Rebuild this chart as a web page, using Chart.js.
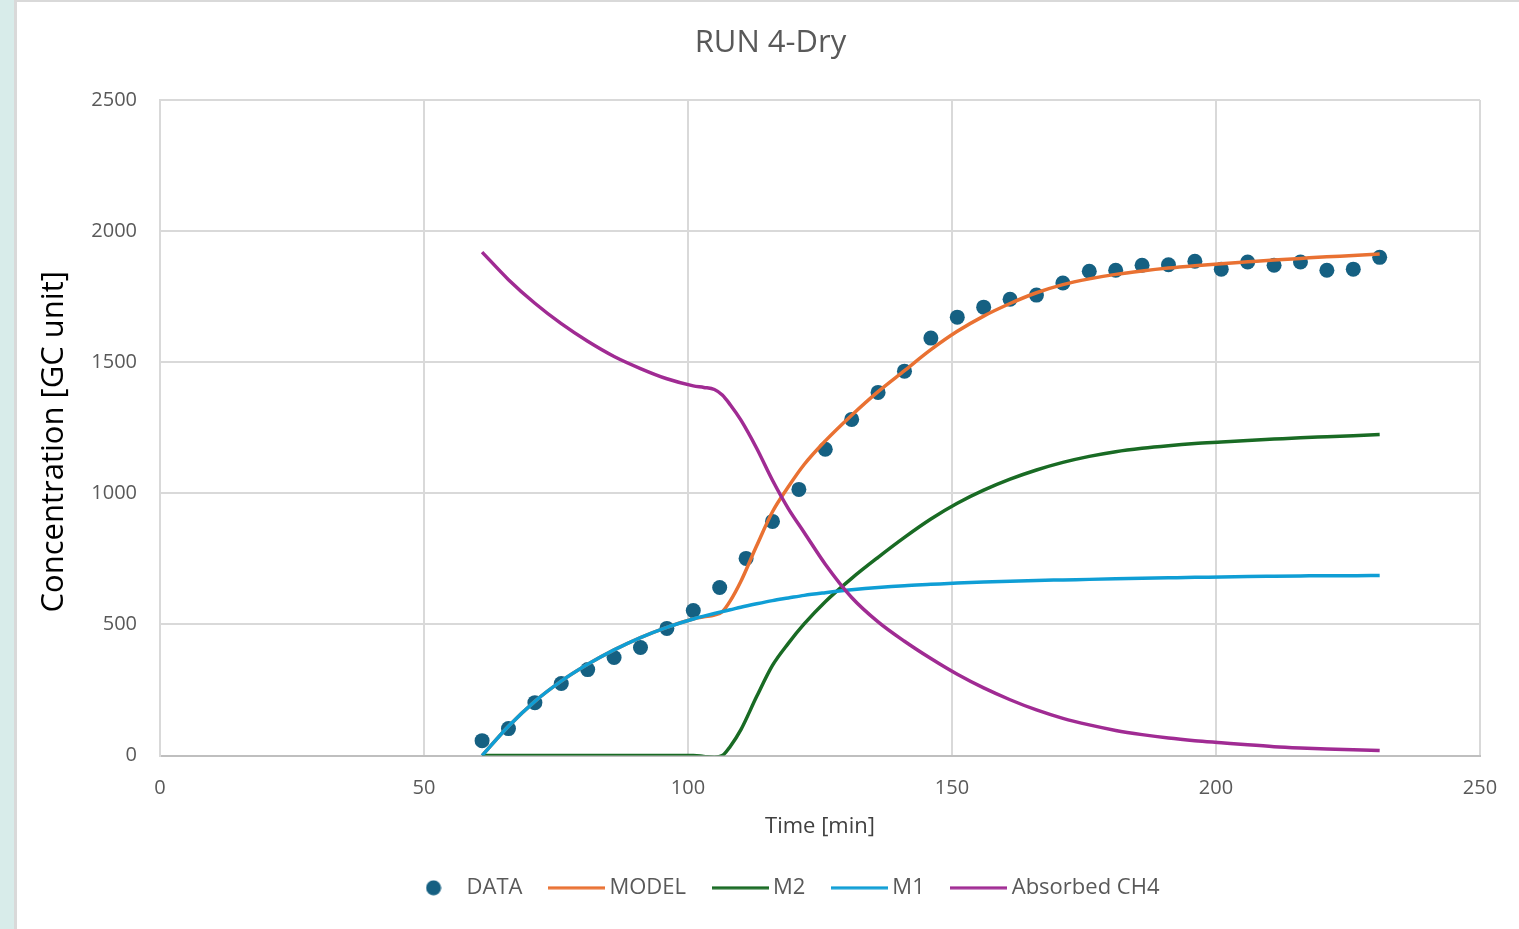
<!DOCTYPE html>
<html>
<head>
<meta charset="utf-8">
<script src="https://cdn.jsdelivr.net/npm/chart.js@4/dist/chart.umd.min.js"></script>
<style>
  html, body { margin: 0; padding: 0; width: 1519px; height: 929px; overflow: hidden; background: #d8ecea; }
  #frame { position: absolute; left: 14px; top: 0; width: 1502px; height: 927px;
           border-left: 3px solid #d9d9d9; border-top: 2px solid #d9d9d9; background: #ffffff; }
  #wrap { position: relative; width: 1502px; height: 927px; }
</style>
</head>
<body>
<div id="frame"><div id="wrap"><canvas id="c"></canvas></div></div>
<script>
// ---- data ----
const dataTime = [61,66,71,76,81,86,91,96,101,106,111,116,121,126,131,136,141,146,151,156,161,166,171,176,181,186,191,196,201,206,211,216,221,226,231];
const dataValues = [57,103,202,275,328,374,412,485,553,641,752,893,1015,1168,1282,1385,1466,1592,1672,1710,1740,1756,1802,1847,1851,1870,1872,1885,1855,1882,1870,1882,1851,1855,1900];

const curveTime = [61,66,71,76,81,86,91,96,101,103,105,106.5,108,110,113,116,119,122,126,131,136,141,146,151,156,161,166,171,176,181,186,191,196,201,206,211,216,221,226,231];
const modelValues = [0,112,207,284,348,403,450,489,521,529,536,549,590,664,800,930,1025,1110,1200,1298,1388,1468,1548,1618,1676,1724,1765,1796,1818,1835,1848,1859,1868,1876,1883,1890,1896,1902,1907,1913];
const m2Values = [0,0,0,0,0,0,0,0,0,-3,-6,0,35,98,225,344,428,502,587,676,756,832,902,962,1012,1054,1089,1118,1141,1159,1172,1182,1190,1196,1202,1207,1212,1216,1220,1224];
const m1Values = [0,112,207,284,348,403,450,489,521,532,542,549,556,566,579,591,601,611,621,632,641,648,653,658,662,665,668,670,672,674,676,678,680,681,683,684,685,686,686,687];
const absorbedValues = [1920,1815,1725,1647,1580,1522,1476,1437,1410,1404,1396,1375,1338,1280,1172,1050,942,851,730,603,510,436,370,310,258,213,174,142,117,96,80,67,57,49,41,34,29,25,22,19];

const xTicks = [0,50,100,150,200,250];
const yTicks = [0,500,1000,1500,2000,2500];
const seriesNames = ['DATA','MODEL','M2','M1','Absorbed CH4'];
const seriesColors = ['#156082','#E97132','#196B24','#0F9ED5','#A02B93'];
const titleText = 'RUN 4-Dry';
const xTitleText = 'Time [min]';
const yTitleText = 'Concentration [GC unit]';

// ---- build ----
const toPts = (xs, ys) => xs.map((x, i) => ({x: x, y: ys[i]}));

function makeDot(color) {
  const c = document.createElement('canvas');
  c.width = 16; c.height = 16;
  const g = c.getContext('2d');
  g.fillStyle = color;
  g.beginPath(); g.arc(8, 8, 7.5, 0, Math.PI * 2); g.fill();
  return c;
}
function makeLine(color) {
  const c = document.createElement('canvas');
  c.width = 57; c.height = 4;
  const g = c.getContext('2d');
  g.fillStyle = color;
  g.fillRect(0, 0.5, 57, 3);
  return c;
}
const legendSymbols = seriesColors.map((col, i) => i === 0 ? makeDot(col) : makeLine(col));

const lineDs = (idx, vals, order) => ({
  label: seriesNames[idx],
  data: toPts(curveTime, vals),
  borderColor: seriesColors[idx],
  backgroundColor: seriesColors[idx],
  borderWidth: 3.5,
  pointRadius: 0,
  showLine: true,
  cubicInterpolationMode: 'monotone',
  fill: false,
  order: order
});

const datasets = [
  {
    label: seriesNames[0],
    data: toPts(dataTime, dataValues),
    showLine: false,
    pointRadius: 7.5,
    pointHoverRadius: 7.5,
    pointBorderWidth: 0,
    pointBackgroundColor: seriesColors[0],
    borderColor: seriesColors[0],
    backgroundColor: seriesColors[0],
    order: 5
  },
  lineDs(1, modelValues, 4),
  lineDs(2, m2Values, 3),
  lineDs(3, m1Values, 2),
  lineDs(4, absorbedValues, 1)
];

const FONT = "'Open Sans', 'Noto Sans', sans-serif";

// shift centred title / legend to where the reference has them
const shiftPlugin = {
  id: 'shiftBlocks',
  afterLayout(chart) {
    if (chart.titleBlock) { chart.titleBlock.left += 22; chart.titleBlock.right += 22; }
    if (chart.legend) { chart.legend.left += 37; chart.legend.right += 37; }
  }
};

// y-axis title, placed a little below the plot centre as in the reference
const yTitlePlugin = {
  id: 'yTitle',
  afterDraw(chart) {
    const ctx = chart.ctx;
    const ca = chart.chartArea;
    ctx.save();
    ctx.translate(37.6, (ca.top + ca.bottom) / 2 + 14);
    ctx.rotate(-Math.PI / 2);
    ctx.font = "31px " + FONT;
    ctx.fillStyle = '#000000';
    ctx.textAlign = 'center';
    ctx.textBaseline = 'middle';
    ctx.fillText(yTitleText, 0, 0);
    ctx.restore();
  }
};

new Chart(document.getElementById('c'), {
  type: 'line',
  data: { datasets: datasets },
  plugins: [shiftPlugin, yTitlePlugin],
  options: {
    responsive: true,
    maintainAspectRatio: false,
    animation: false,
    events: [],
    layout: { padding: { left: 0, right: 39, top: 0, bottom: 20.2 } },
    plugins: {
      tooltip: { enabled: false },
      title: {
        display: true,
        text: titleText,
        color: '#595959',
        font: { family: FONT, size: 31, weight: 'normal', lineHeight: 1.2 },
        padding: { top: 22.9, bottom: 37.9 }
      },
      legend: {
        display: true,
        position: 'bottom',
        labels: {
          usePointStyle: true,
          pointStyleWidth: 44,
          padding: 32,
          color: '#595959',
          font: { family: FONT, size: 22, lineHeight: 1.2 },
          sort: (a, b) => a.datasetIndex - b.datasetIndex,
          generateLabels: (chart) => {
            const items = Chart.defaults.plugins.legend.labels.generateLabels(chart);
            items.forEach(it => { it.pointStyle = legendSymbols[it.datasetIndex]; });
            return items;
          }
        }
      }
    },
    scales: {
      x: {
        type: 'linear',
        min: xTicks[0], max: xTicks[xTicks.length - 1],
        afterBuildTicks: (s) => { s.ticks = xTicks.map(v => ({value: v})); },
        afterFit: (s) => { s.height = 89.2; },
        grid: { color: '#d9d9d9', lineWidth: 2, drawTicks: false },
        border: { color: '#bfbfbf', width: 2 },
        ticks: { color: '#595959', font: { family: FONT, size: 20 }, padding: 21, maxRotation: 0,
                 callback: (v) => String(v) },
        title: {
          display: true, text: xTitleText, color: '#404040',
          font: { family: FONT, size: 22, lineHeight: 1.2 },
          padding: { top: 0, bottom: 5.0 }
        }
      },
      y: {
        type: 'linear',
        min: yTicks[0], max: yTicks[yTicks.length - 1],
        afterBuildTicks: (s) => { s.ticks = yTicks.map(v => ({value: v})); },
        afterFit: (s) => { s.width = 143; },
        grid: { color: '#d9d9d9', lineWidth: 2, drawTicks: false },
        border: { color: '#d9d9d9', width: 2 },
        ticks: { color: '#595959', font: { family: FONT, size: 20 }, padding: 23,
                 callback: (v) => String(v) },
        title: { display: false }
      }
    }
  }
});
</script>
</body>
</html>
